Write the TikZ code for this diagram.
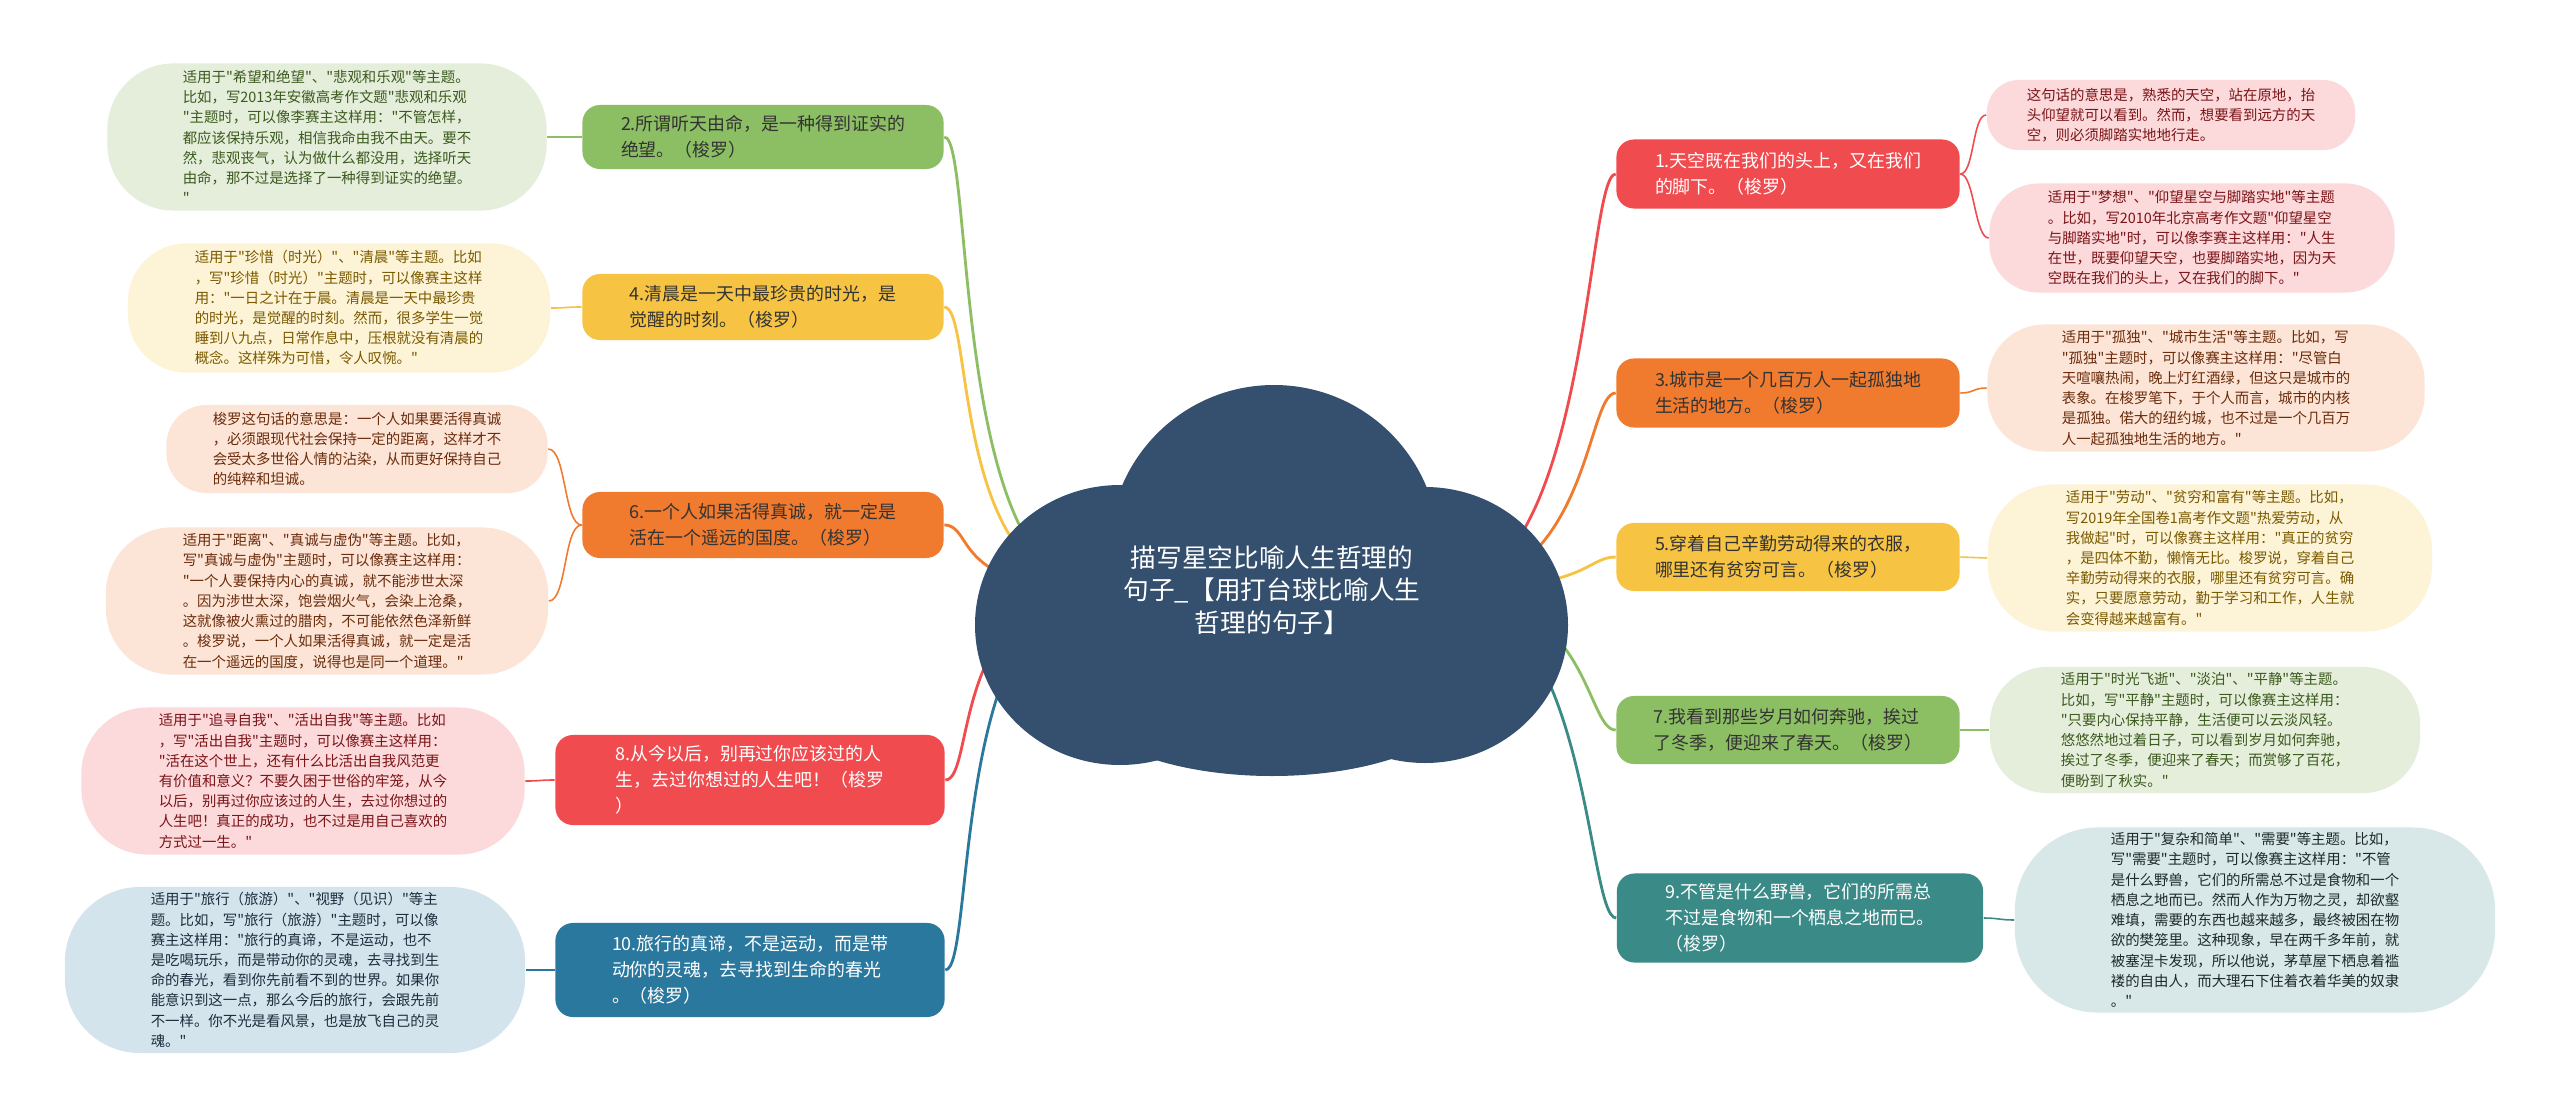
\documentclass[tikz,border=0pt]{standalone}
\usepackage{fontspec}
\newfontfamily\cjk{Noto Sans CJK SC}
\usepackage{xcolor}

\definecolor{cloud}{RGB}{52,80,110}
\definecolor{cgreen}{RGB}{140,190,100}
\definecolor{cyellow}{RGB}{246,195,67}
\definecolor{corange}{RGB}{240,122,45}
\definecolor{cred}{RGB}{240,75,79}
\definecolor{cblue}{RGB}{43,120,158}
\definecolor{cteal}{RGB}{58,138,135}
\definecolor{lgreen}{RGB}{229,238,219}
\definecolor{lyellow}{RGB}{253,243,214}
\definecolor{lorange}{RGB}{252,228,214}
\definecolor{lred}{RGB}{252,217,218}
\definecolor{lblue}{RGB}{212,228,236}
\definecolor{lteal}{RGB}{216,231,231}
\definecolor{tgreen}{RGB}{59,90,30}
\definecolor{tyellow}{RGB}{122,90,0}
\definecolor{torange}{RGB}{107,44,12}
\definecolor{tred}{RGB}{122,20,24}
\definecolor{tblue}{RGB}{28,46,62}
\definecolor{tteal}{RGB}{30,42,42}

\newcommand{\leaffont}{\cjk\fontsize{4.1pt}{5.75pt}\selectfont}
\newcommand{\branchfont}{\cjk\fontsize{5.1pt}{7.4pt}\selectfont}
\newcommand{\topicfont}{\cjk\fontsize{7.3pt}{9.2pt}\selectfont}

\tikzset{
  leaf/.style={align=left, inner sep=0pt, font=\leaffont},
  branch/.style={align=left, inner sep=0pt, rounded corners=5pt, font=\branchfont},
  edge/.style={line width=0.8pt},
  twig/.style={line width=0.45pt},
}

\begin{document}
\begin{tikzpicture}[x=0.01cm, y=-0.01cm]
    \fill[white] (0,0) rectangle (2560,1118);
    \useasboundingbox (0,0) rectangle (2560,1118);

    % branches, left
    \node[branch, fill=cgreen, text=black!80, minimum width=3.61cm, minimum height=0.64cm] (n2) at (763,137) {2.所谓听天由命，是一种得到证实的\\绝望。（梭罗）};
    \node[branch, fill=cyellow, text=black!80, minimum width=3.61cm, minimum height=0.66cm] (n4) at (763,307) {4.清晨是一天中最珍贵的时光，是\\觉醒的时刻。（梭罗）};
    \node[branch, fill=corange, text=black!80, minimum width=3.61cm, minimum height=0.66cm] (n6) at (763,525) {6.一个人如果活得真诚，就一定是\\活在一个遥远的国度。（梭罗）};
    \node[branch, fill=cred, text=white, minimum width=3.89cm, minimum height=0.90cm] (n8) at (750,780) {8.从今以后，别再过你应该过的人\\生，去过你想过的人生吧！（梭罗\\）};
    \node[branch, fill=cblue, text=white, minimum width=3.89cm, minimum height=0.94cm] (n10) at (750,970) {10.旅行的真谛，不是运动，而是带\\动你的灵魂，去寻找到生命的春光\\。（梭罗）};

    % branches, right
    \node[branch, fill=cred, text=white, minimum width=3.43cm, minimum height=0.69cm] (n1) at (1788,174) {1.天空既在我们的头上，又在我们\\的脚下。（梭罗）};
    \node[branch, fill=corange, text=black!80, minimum width=3.43cm, minimum height=0.69cm] (n3) at (1788,393) {3.城市是一个几百万人一起孤独地\\生活的地方。（梭罗）};
    \node[branch, fill=cyellow, text=black!80, minimum width=3.43cm, minimum height=0.68cm] (n5) at (1788,557) {5.穿着自己辛勤劳动得来的衣服，\\哪里还有贫穷可言。（梭罗）};
    \node[branch, fill=cgreen, text=black!80, minimum width=3.43cm, minimum height=0.68cm] (n7) at (1788,730) {7.我看到那些岁月如何奔驰，挨过\\了冬季，便迎来了春天。（梭罗）};
    \node[branch, fill=cteal, text=white, minimum width=3.66cm, minimum height=0.89cm] (n9) at (1800,918) {9.不管是什么野兽，它们的所需总\\不过是食物和一个栖息之地而已。\\（梭罗）};

    % leaves, left
    \node[leaf, fill=lgreen, text=tgreen, rounded corners=0.66cm, minimum width=4.39cm, minimum height=1.47cm] (l2) at (327,137) {适用于"希望和绝望"、"悲观和乐观"等主题。\\比如，写2013年安徽高考作文题"悲观和乐观\\"主题时，可以像李赛主这样用："不管怎样，\\都应该保持乐观，相信我命由我不由天。要不\\然，悲观丧气，认为做什么都没用，选择听天\\由命，那不过是选择了一种得到证实的绝望。\\"};
    \node[leaf, fill=lyellow, text=tyellow, rounded corners=0.58cm, minimum width=4.22cm, minimum height=1.29cm] (l4) at (339,308) {适用于"珍惜（时光）"、"清晨"等主题。比如\\，写"珍惜（时光）"主题时，可以像赛主这样\\用："一日之计在于晨。清晨是一天中最珍贵\\的时光，是觉醒的时刻。然而，很多学生一觉\\睡到八九点，日常作息中，压根就没有清晨的\\概念。这样殊为可惜，令人叹惋。"};
    \node[leaf, fill=lorange, text=torange, rounded corners=0.40cm, minimum width=3.81cm, minimum height=0.88cm] (l6a) at (357,449) {梭罗这句话的意思是：一个人如果要活得真诚\\，必须跟现代社会保持一定的距离，这样才不\\会受太多世俗人情的沾染，从而更好保持自己\\的纯粹和坦诚。};
    \node[leaf, fill=lorange, text=torange, rounded corners=0.66cm, minimum width=4.42cm, minimum height=1.47cm] (l6b) at (327,601) {适用于"距离"、"真诚与虚伪"等主题。比如，\\写"真诚与虚伪"主题时，可以像赛主这样用：\\"一个人要保持内心的真诚，就不能涉世太深\\。因为涉世太深，饱尝烟火气，会染上沧桑，\\这就像被火熏过的腊肉，不可能依然色泽新鲜\\。梭罗说，一个人如果活得真诚，就一定是活\\在一个遥远的国度，说得也是同一个道理。"};
    \node[leaf, fill=lred, text=tred, rounded corners=0.66cm, minimum width=4.43cm, minimum height=1.47cm] (l8) at (303,781) {适用于"追寻自我"、"活出自我"等主题。比如\\，写"活出自我"主题时，可以像赛主这样用：\\"活在这个世上，还有什么比活出自我风范更\\有价值和意义？不要久困于世俗的牢笼，从今\\以后，别再过你应该过的人生，去过你想过的\\人生吧！真正的成功，也不过是用自己喜欢的\\方式过一生。"};
    \node[leaf, fill=lblue, text=tblue, rounded corners=0.75cm, minimum width=4.60cm, minimum height=1.66cm] (l10) at (295,970) {适用于"旅行（旅游）"、"视野（见识）"等主\\题。比如，写"旅行（旅游）"主题时，可以像\\赛主这样用："旅行的真谛，不是运动，也不\\是吃喝玩乐，而是带动你的灵魂，去寻找到生\\命的春光，看到你先前看不到的世界。如果你\\能意识到这一点，那么今后的旅行，会跟先前\\不一样。你不光是看风景，也是放飞自己的灵\\魂。"};

    % leaves, right
    \node[leaf, fill=lred, text=tred, rounded corners=0.32cm, minimum width=3.68cm, minimum height=0.70cm] (r1a) at (2171,115) {这句话的意思是，熟悉的天空，站在原地，抬\\头仰望就可以看到。然而，想要看到远方的天\\空，则必须脚踏实地地行走。};
    \node[leaf, fill=lred, text=tred, rounded corners=0.49cm, minimum width=4.05cm, minimum height=1.09cm] (r1b) at (2192,238) {适用于"梦想"、"仰望星空与脚踏实地"等主题\\。比如，写2010年北京高考作文题"仰望星空\\与脚踏实地"时，可以像李赛主这样用："人生\\在世，既要仰望天空，也要脚踏实地，因为天\\空既在我们的头上，又在我们的脚下。"};
    \node[leaf, fill=lorange, text=torange, rounded corners=0.57cm, minimum width=4.37cm, minimum height=1.27cm] (r3) at (2206,388) {适用于"孤独"、"城市生活"等主题。比如，写\\"孤独"主题时，可以像赛主这样用："尽管白\\天喧嚷热闹，晚上灯红酒绿，但这只是城市的\\表象。在梭罗笔下，于个人而言，城市的内核\\是孤独。偌大的纽约城，也不过是一个几百万\\人一起孤独地生活的地方。"};
    \node[leaf, fill=lyellow, text=tyellow, rounded corners=0.66cm, minimum width=4.44cm, minimum height=1.47cm] (r5) at (2210,558) {适用于"劳动"、"贫穷和富有"等主题。比如，\\写2019年全国卷1高考作文题"热爱劳动，从\\我做起"时，可以像赛主这样用："真正的贫穷\\，是四体不勤，懒惰无比。梭罗说，穿着自己\\辛勤劳动得来的衣服，哪里还有贫穷可言。确\\实，只要愿意劳动，勤于学习和工作，人生就\\会变得越来越富有。"};
    \node[leaf, fill=lgreen, text=tgreen, rounded corners=0.57cm, minimum width=4.30cm, minimum height=1.26cm] (r7) at (2205,730) {适用于"时光飞逝"、"淡泊"、"平静"等主题。\\比如，写"平静"主题时，可以像赛主这样用：\\"只要内心保持平静，生活便可以云淡风轻。\\悠悠然地过着日子，可以看到岁月如何奔驰，\\挨过了冬季，便迎来了春天；而赏够了百花，\\便盼到了秋实。"};
    \node[leaf, fill=lteal, text=tteal, rounded corners=0.83cm, minimum width=4.80cm, minimum height=1.85cm] (r9) at (2255,920) {适用于"复杂和简单"、"需要"等主题。比如，\\写"需要"主题时，可以像赛主这样用："不管\\是什么野兽，它们的所需总不过是食物和一个\\栖息之地而已。然而人作为万物之灵，却欲壑\\难填，需要的东西也越来越多，最终被困在物\\欲的樊笼里。这种现象，早在两千多年前，就\\被塞涅卡发现，所以他说，茅草屋下栖息着褴\\褛的自由人，而大理石下住着衣着华美的奴隶\\。"};

    % main lines
    \coordinate (cl) at (1100,590);
    \coordinate (cr) at (1440,590);
    \draw[edge, cgreen] (cl) .. controls +(-150,0) and +(30,0) .. (n2.east);
    \draw[edge, cyellow] (cl) .. controls +(-150,0) and +(30,0) .. (n4.east);
    \draw[edge, corange] (cl) .. controls +(-150,0) and +(30,0) .. (n6.east);
    \draw[edge, cred] (cl) .. controls +(-150,0) and +(30,0) .. (n8.east);
    \draw[edge, cblue] (cl) .. controls +(-150,0) and +(30,0) .. (n10.east);
    \draw[edge, cred] (cr) .. controls +(150,0) and +(-30,0) .. (n1.west);
    \draw[edge, corange] (cr) .. controls +(150,0) and +(-30,0) .. (n3.west);
    \draw[edge, cyellow] (cr) .. controls +(150,0) and +(-30,0) .. (n5.west);
    \draw[edge, cgreen] (cr) .. controls +(150,0) and +(-30,0) .. (n7.west);
    \draw[edge, cteal] (cr) .. controls +(150,0) and +(-30,0) .. (n9.west);

    % leaf lines
    \draw[twig, cgreen] (n2.west) .. controls +(-18,0) and +(18,0) .. (l2.east);
    \draw[twig, cyellow] (n4.west) .. controls +(-18,0) and +(18,0) .. (l4.east);
    \draw[twig, corange] (n6.west) .. controls +(-18,0) and +(18,0) .. (l6a.east);
    \draw[twig, corange] (n6.west) .. controls +(-18,0) and +(18,0) .. (l6b.east);
    \draw[twig, cred] (n8.west) .. controls +(-18,0) and +(18,0) .. (l8.east);
    \draw[twig, cblue] (n10.west) .. controls +(-18,0) and +(18,0) .. (l10.east);
    \draw[twig, cred] (n1.east) .. controls +(14,0) and +(-14,0) .. (r1a.west);
    \draw[twig, cred] (n1.east) .. controls +(14,0) and +(-14,0) .. (r1b.west);
    \draw[twig, corange] (n3.east) .. controls +(14,0) and +(-14,0) .. (r3.west);
    \draw[twig, cyellow] (n5.east) .. controls +(14,0) and +(-14,0) .. (r5.west);
    \draw[twig, cgreen] (n7.east) .. controls +(14,0) and +(-14,0) .. (r7.west);
    \draw[twig, cteal] (n9.east) .. controls +(14,0) and +(-14,0) .. (r9.west);

    % cloud
    \fill[cloud] (1274,550) circle (165);
    \fill[cloud] (1120,625) ellipse (145 and 140);
    \fill[cloud] (1425,625) ellipse (143 and 138);
    \fill[cloud] (1272,690) ellipse (200 and 86);
    \fill[cloud] (1120,560) rectangle (1425,700);
    \node[align=center, text=white, font=\topicfont] (topic) at (1272,590) {描写星空比喻人生哲理的\\句子\_【用打台球比喻人生\\哲理的句子】};
\end{tikzpicture}
\end{document}
